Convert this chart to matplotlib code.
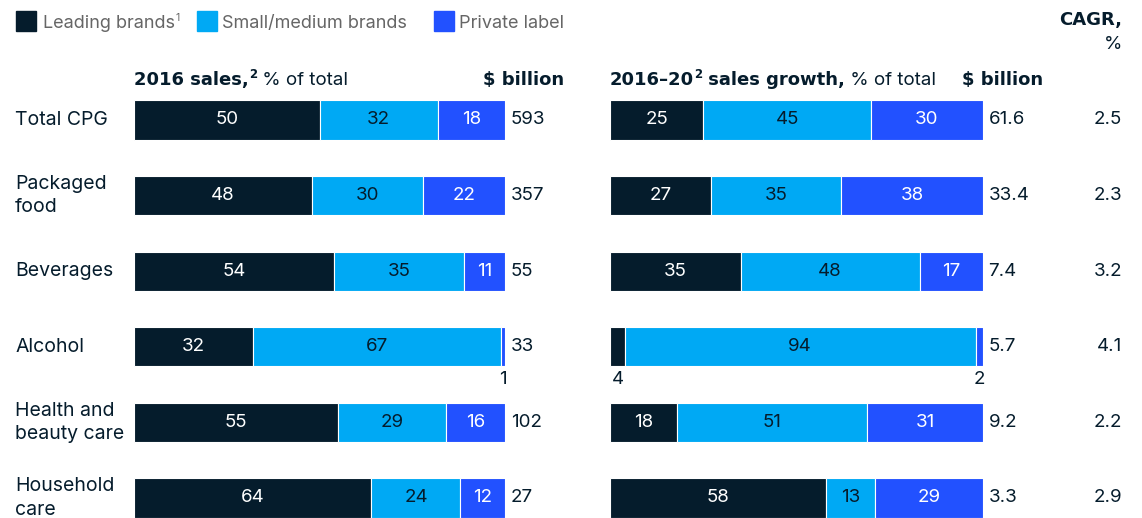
import numpy as np
import matplotlib.pyplot as plt
from matplotlib.patches import Rectangle
from matplotlib.transforms import blended_transform_factory

plt.rcParams["font.family"] = ["Inter", "DejaVu Sans"]

categories = ["Total CPG", "Packaged\nfood", "Beverages", "Alcohol",
              "Health and\nbeauty care", "Household\ncare"]
series = ["Leading brands", "Small/medium brands", "Private label"]

sales_2016 = {
    "Leading brands": [50, 48, 54, 32, 55, 64],
    "Small/medium brands": [32, 30, 35, 67, 29, 24],
    "Private label": [18, 22, 11, 1, 16, 12],
}
sales_2016_total = ["593", "357", "55", "33", "102", "27"]

growth = {
    "Leading brands": [25, 27, 35, 4, 18, 58],
    "Small/medium brands": [45, 35, 48, 94, 51, 13],
    "Private label": [30, 38, 17, 2, 31, 29],
}
growth_total = ["61.6", "33.4", "7.4", "5.7", "9.2", "3.3"]
cagr = ["2.5", "2.3", "3.2", "4.1", "2.2", "2.9"]

colors = {"Leading brands": "#051C2C", "Small/medium brands": "#00A9F4",
          "Private label": "#2251FF"}
text_colors = {"Leading brands": "white", "Small/medium brands": "#051C2C",
               "Private label": "white"}
INK = "#051C2C"
FS = 13.5
BOLD = ["DejaVu Sans"]

W, H = 1142, 518
fig = plt.figure(figsize=(W / 100, H / 100), dpi=100)
renderer = fig.canvas.get_renderer()

# row i centre sits at 120 + 75.6*i px from the top
row0, step = 120, 75.6
ylim = ((H - row0) / step, -row0 / step)


def make_axes(x0, x1):
    ax = fig.add_axes([x0 / W, 0, (x1 - x0) / W, 1])
    ax.set_xlim(0, 100)
    ax.set_ylim(*ylim)
    ax.axis("off")
    return ax


def draw_panel(ax, data, totals):
    y = np.arange(len(categories))
    left = np.zeros(len(categories))
    for s in series:
        vals = np.array(data[s], dtype=float)
        ax.barh(y, vals, left=left, height=0.52, color=colors[s],
                edgecolor="white", linewidth=0.8)
        for i, v in enumerate(vals):
            cx = left[i] + v / 2
            if v >= 5:
                ax.text(cx, i, f"{v:.0f}", ha="center", va="center",
                        fontsize=FS, color=text_colors[s])
            else:
                ax.text(cx, i + 0.43, f"{v:.0f}", ha="center", va="center",
                        fontsize=FS, color=INK)
        left += vals
    for i, t in enumerate(totals):
        ax.text(101.5, i, t, ha="left", va="center", fontsize=FS,
                color=INK, clip_on=False)


def rich_text(x_px, y_px, parts, color=INK):
    # parts: (text, family, weight, size, raise_px)
    x = x_px
    for txt, fam, weight, size, dy in parts:
        t = fig.text(x / W, 1 - (y_px - dy) / H, txt, ha="left",
                     va="baseline", fontsize=size, fontweight=weight,
                     family=fam, color=color)
        x += t.get_window_extent(renderer).width


ax_l = make_axes(134, 505)
ax_r = make_axes(610, 983)
draw_panel(ax_l, sales_2016, sales_2016_total)
draw_panel(ax_r, growth, growth_total)

# category labels and CAGR column
tr = blended_transform_factory(fig.transFigure, ax_l.transData)
for i, c in enumerate(categories):
    fig.text(15 / W, i, c, transform=tr, ha="left", va="center",
             fontsize=14, color=INK, linespacing=1.4)
    fig.text(1122 / W, i, cagr[i], transform=tr, ha="right", va="center",
             fontsize=FS, color=INK)

# headers
base = 85
regular = ["Inter"]
rich_text(134, base, [("2016 sales,", BOLD, "bold", 13, 0),
                      ("2", BOLD, "bold", 8.5, 7),
                      (" % of total", regular, "normal", FS, 0)])
rich_text(610, base, [("2016\u201320", BOLD, "bold", 13, 0),
                      ("2", BOLD, "bold", 8.5, 7),
                      (" sales growth,", BOLD, "bold", 13, 0),
                      (" % of total", regular, "normal", FS, 0)])
for xr in (564, 1043):
    fig.text(xr / W, 1 - base / H, "$ billion", ha="right", va="baseline",
             fontsize=13, fontweight="bold", family=BOLD, color=INK)
fig.text(1122 / W, 1 - 25 / H, "CAGR,", ha="right", va="baseline",
         fontsize=13, fontweight="bold", family=BOLD, color=INK)
fig.text(1122 / W, 1 - 49 / H, "%", ha="right", va="baseline",
         fontsize=FS, color=INK)

# legend
legend_x = [(16, 43, "Leading brands"), (197, 222, "Small/medium brands"),
            (434, 459, "Private label")]
for (sx, tx, label), s in zip(legend_x, series):
    fig.patches.append(Rectangle((sx / W, 1 - 31 / H), 20 / W, 20 / H,
                                 transform=fig.transFigure, color=colors[s]))
    parts = [(label, regular, "normal", 13, 0)]
    if s == "Leading brands":
        parts.append(("1", regular, "normal", 7.5, 7))
    rich_text(tx, 28, parts, color="#666666")

fig.savefig("out.png", dpi=100)
